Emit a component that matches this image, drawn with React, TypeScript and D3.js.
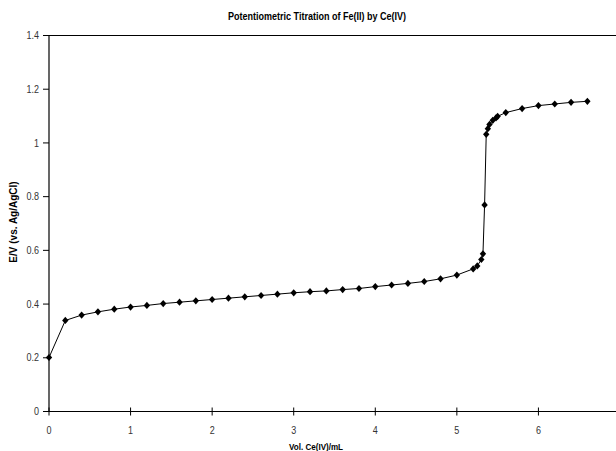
import React from "react";
import * as d3 from "d3";

const volumes = [
  0, 0.2, 0.4, 0.6, 0.8, 1.0, 1.2, 1.4, 1.6, 1.8, 2.0, 2.2, 2.4, 2.6, 2.8, 3.0,
  3.2, 3.4, 3.6, 3.8, 4.0, 4.2, 4.4, 4.6, 4.8, 5.0, 5.2, 5.25, 5.3, 5.32, 5.34,
  5.36, 5.38, 5.4, 5.44, 5.48, 5.5, 5.6, 5.8, 6.0, 6.2, 6.4, 6.6,
];
const potentials = [
  0.201, 0.339, 0.359, 0.371, 0.381, 0.389, 0.395, 0.402, 0.407, 0.412, 0.417,
  0.422, 0.427, 0.432, 0.437, 0.442, 0.446, 0.449, 0.454, 0.458, 0.465, 0.471,
  0.477, 0.484, 0.494, 0.508, 0.531, 0.542, 0.566, 0.587, 0.769, 1.032, 1.053,
  1.069, 1.084, 1.093, 1.099, 1.113, 1.128, 1.139, 1.145, 1.151, 1.155,
];
const xTicks = [0, 1, 2, 3, 4, 5, 6];
const yTicks = [0, 0.2, 0.4, 0.6, 0.8, 1, 1.2, 1.4];
const title = "Potentiometric Titration of Fe(II) by Ce(IV)";
const xTitle = "Vol. Ce(IV)/mL";
const yTitle = "E/V (vs. Ag/AgCl)";

const W = 616;
const H = 451;
const FONT = "'Liberation Sans', Arial, sans-serif";

function T(props: {
  x: number;
  y: number;
  anchor: string;
  size: number;
  sx: number;
  bold?: boolean;
  children: React.ReactNode;
}) {
  return (
    <text
      transform={`translate(${props.x},${props.y}) scale(${props.sx},1)`}
      textAnchor={props.anchor}
      fontSize={props.size}
      fontWeight={props.bold ? "bold" : "normal"}
      fontFamily={FONT}
      fill={props.bold ? "#000" : "#333"}
    >
      {props.children}
    </text>
  );
}

export default function App() {
  const x = d3.scaleLinear().domain([0, 7]).range([49, 620]);
  const y = d3.scaleLinear().domain([0, 1.4]).range([411.5, 35.5]);
  const pts = volumes.map((v, i) => [v, potentials[i]] as [number, number]);
  const line = d3
    .line<[number, number]>()
    .x((d) => x(d[0]))
    .y((d) => y(d[1]));
  const diamond = (cx: number, cy: number) =>
    `M${cx},${cy - 3.6}L${cx + 3.2},${cy}L${cx},${cy + 3.6}L${cx - 3.2},${cy}Z`;

  return (
    <svg
      width={W}
      height={H}
      style={{ position: "absolute", left: 0, top: 0, background: "#fff" }}
    >
      <rect x={0} y={0} width={W} height={H} fill="#fff" />
      <T x={317} y={20} anchor="middle" size={10.5} sx={0.86} bold>
        {title}
      </T>
      {/* frame */}
      <line x1={x(0)} x2={W} y1={y(1.4)} y2={y(1.4)} stroke="#000" strokeWidth={1.2} />
      <line x1={x(0)} x2={x(0)} y1={y(1.4)} y2={y(0)} stroke="#000" strokeWidth={1.2} />
      <line x1={x(0)} x2={W} y1={y(0)} y2={y(0)} stroke="#000" strokeWidth={1.2} />
      {yTicks.map((t) => (
        <g key={"y" + t}>
          <line x1={x(0) - 6} x2={x(0)} y1={y(t)} y2={y(t)} stroke="#000" />
          <T x={39} y={y(t) + 3.6} anchor="end" size={10} sx={0.9}>
            {String(t)}
          </T>
        </g>
      ))}
      {xTicks.map((t) => (
        <g key={"x" + t}>
          <line x1={x(t)} x2={x(t)} y1={y(0) - 4} y2={y(0) + 4} stroke="#000" />
          <T x={x(t)} y={434} anchor="middle" size={10} sx={0.9}>
            {String(t)}
          </T>
        </g>
      ))}
      <T x={316} y={450} anchor="middle" size={9.5} sx={0.85} bold>
        {xTitle}
      </T>
      <text
        transform={`translate(17,222) rotate(-90)`}
        textAnchor="middle"
        fontSize={10}
        fontWeight="bold"
        fontFamily={FONT}
      >
        {yTitle}
      </text>
      <path d={line(pts) || ""} fill="none" stroke="#000" strokeWidth={1} />
      {pts.map((p, i) => (
        <path key={i} d={diamond(x(p[0]), y(p[1]))} fill="#000" />
      ))}
    </svg>
  );
}
